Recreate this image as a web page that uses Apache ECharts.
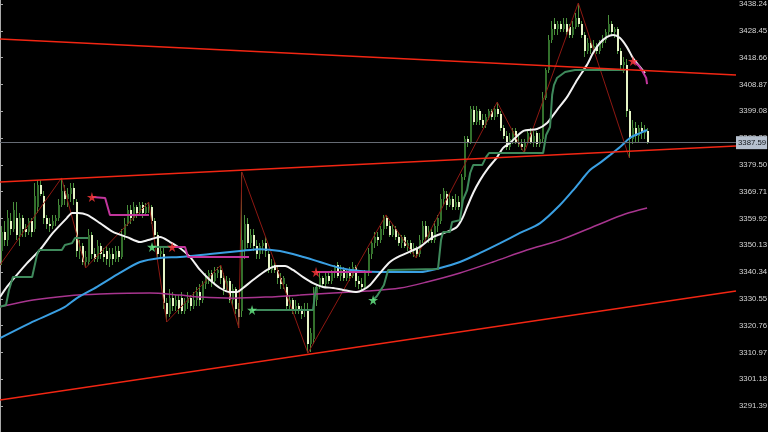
<!DOCTYPE html>
<html><head><meta charset="utf-8">
<script src="https://cdn.jsdelivr.net/npm/echarts@6/dist/echarts.min.js"></script>
<style>html,body{margin:0;padding:0;background:#000;}#c{width:768px;height:432px;}</style>
</head><body><div id="c"></div>
<script>
// y-axis tick labels (price)
const priceTicks = [3291.39,3301.18,3310.97,3320.76,3330.55,3340.34,3350.13,3359.92,3369.71,3379.50,3389.29,3399.08,3408.87,3418.66,3428.45,3438.24];
const bidPrice = 3387.59;
// candles: [open, close, low, high], one per bar
const candles = [
[3348,3355,3343,3357],[3355,3352,3350,3359],[3352,3360,3350,3363],[3359,3356,3354,3362],[3356,3363,3355,3366],
[3360,3354,3352,3366],[3354,3360,3350,3362],[3360,3356,3353,3361],[3356,3355,3353,3358],[3355,3359,3354,3360],
[3359,3355,3353,3360],[3356,3368,3355,3373],[3364,3372,3362,3374],[3372,3369,3368,3374],[3368,3360,3358,3370],
[3360,3358,3356,3361],[3358,3357,3355,3360],[3357,3359,3356,3361],[3359,3360,3357,3361],[3360,3365,3359,3367],
[3365,3370,3364,3374.7],[3370,3367,3365,3372],[3367,3369,3364,3371],[3369,3371,3366,3373],[3371,3367,3365,3373],
[3366,3348,3346,3367],[3348,3350,3345,3352],[3350,3344,3343,3351],[3344,3346,3341.8,3348],[3344,3354,3343,3356],
[3354,3347,3345,3355],[3347,3345,3344,3349],[3345,3350,3344,3352],[3350,3347,3345,3351],[3347,3346,3344,3349],
[3348,3345,3343,3350],[3345,3347,3342,3349],[3347,3345,3343,3349],[3345,3348,3344,3350],[3348,3346,3344,3350],
[3346,3354,3345,3356],[3354,3358,3352,3360],[3358,3363,3357,3365],[3363,3360,3358,3365],[3360,3364,3359,3366],
[3364,3362,3360,3365],[3362,3365,3361,3366],[3365,3362,3360,3366],[3362,3364,3361,3365.5],[3364,3364.5,3362,3365.9],
[3364,3359,3358,3365],[3359,3354,3352,3360],[3354,3347,3345,3355],[3347,3348,3345,3350],[3347,3329,3327,3349],
[3329,3325,3322.1,3331],[3325,3331,3324,3334],[3331,3328,3326,3333],[3328,3330,3326,3332],[3330,3327,3325,3332],
[3331,3326,3325,3333],[3326,3329,3325,3331],[3329,3331,3327,3333],[3331,3328,3326,3332],[3328,3330,3327,3333],
[3330,3333,3328,3335],[3333,3330,3328,3336],[3330,3336,3329,3337],[3336,3338,3334,3340],[3338,3340,3336,3341],
[3340,3337,3335,3341],[3337,3340,3336,3342],[3340,3341,3338,3342],[3341,3338,3336,3342.9],[3338,3334,3332,3340],
[3334,3337,3333,3339],[3337,3330,3329,3338],[3330,3334,3328,3336],[3334,3327,3325,3335],[3327,3324,3319.9,3329],
[3326,3352,3324,3376.9],[3348,3358,3345,3361],[3358,3351,3349,3360],[3351,3354,3349,3356],[3354,3350,3348,3356],
[3350,3347,3345,3352],[3347,3350,3345,3351],[3350,3351,3347,3352],[3351,3348,3346,3353],[3347,3341,3340,3348],
[3341,3343,3340,3345],[3343,3341,3340,3344],[3341,3338,3336,3342],[3338,3336,3334,3340],[3336,3338,3334,3339],
[3335,3328,3326,3336],[3328,3330,3326,3332],[3330,3326,3325,3331],[3326,3328,3325,3330],[3328,3326,3325,3329],
[3326,3325,3323,3328],[3326,3327,3324,3329],[3327,3314,3310.7,3329],[3314,3318,3311,3320],[3316,3332,3314,3335],
[3330,3335,3328,3336],[3335,3338,3334,3340],[3338,3336,3335,3339],[3336,3339,3335,3340],[3339,3337,3336,3340],
[3337,3340,3336,3341],[3340,3342,3338,3343],[3343,3339,3338,3344],[3339,3341,3337,3343],[3341,3338,3337,3342],
[3338,3340,3337,3341],[3340,3339,3337,3342],[3339,3342,3338,3344],[3342,3337,3335,3343],[3337,3336,3334,3339],
[3336,3335,3333.8,3338],[3335,3340,3334,3341],[3340,3347,3339,3349],[3347,3351,3345,3352],[3351,3353,3349,3355],
[3353,3352,3350,3355],[3352,3356,3351,3357],[3356,3360,3354,3361],[3360,3357,3356,3361.2],[3357,3354,3353,3359],
[3354,3356,3353,3358],[3356,3353,3352,3357],[3353,3351,3350,3355],[3351,3353,3349,3354],[3353,3350,3349,3354],
[3350,3351,3348,3352],[3351,3348,3347,3352],[3348,3349,3346,3351],[3349,3347,3345.5,3350],[3347,3352,3346,3354],
[3352,3357,3351,3359],[3357,3353,3352,3359],[3353,3355,3351,3357],[3355,3352,3351,3356],[3352,3357,3351,3359],
[3357,3360,3355,3361],[3359,3367,3358,3369],[3367,3370,3365,3371],[3369,3365,3363,3370],[3365,3367,3364,3369],
[3367,3364,3363,3368],[3364,3366,3363,3369],[3366,3364,3363,3368],[3365,3375,3364,3376],[3375,3389,3374,3390],
[3389,3388,3386,3390],[3388,3400,3387,3401],[3399.5,3395,3394,3401],[3395,3399,3394,3401],[3399,3396,3394,3400],
[3396,3394,3393,3398],[3394,3397,3393,3398],[3397,3399,3396,3400],[3399,3397,3396,3400],[3397,3400,3396,3401],
[3400,3398,3397,3402.4],[3398,3393,3392,3399],[3393,3390,3389,3394],[3390,3386,3385,3392],[3386,3389,3385,3391],
[3389,3392,3387,3393],[3392,3388,3387,3393],[3388,3387,3386,3390],[3387,3386,3385,3389],[3386,3388,3383.8,3389],
[3388,3391,3387,3392],[3391,3388,3387,3393],[3388,3390,3386,3392],[3391,3387,3386,3392],[3387,3389,3386,3391],
[3389,3404,3388,3406],[3404,3414,3403,3415],[3414,3425,3413,3427],[3425,3429,3424,3432],[3431,3429,3427,3433],
[3429,3431,3427,3432],[3431,3429,3428,3432],[3429,3431,3428,3433],[3431,3428,3427,3433],[3430,3427,3426,3431],
[3427,3430,3426,3432],[3430,3433,3429,3435],[3433,3431,3430,3438.6],[3431,3427,3426,3432],[3427,3421,3419,3428],
[3421,3424,3420,3426],[3424,3422,3420,3425],[3422,3423,3420,3425],[3423,3421,3420,3424],[3421,3424,3420,3425],
[3424,3425,3422,3427],[3425,3428,3424,3429],[3428,3431,3427,3434.2],[3431,3428,3427,3432],[3428,3429,3426,3430],
[3429,3421,3420,3430],[3421,3416,3414,3422],[3416,3417,3413,3419],[3416,3399,3397,3418],[3399,3389,3382,3400],
[3389,3393,3387,3396],[3393,3390,3388,3395],[3390,3393,3388,3394],[3393,3391,3389,3395],[3391,3392,3389,3394],
[3392,3387.59,3387,3393]
];
// indicator lines: [bar position, price]
const whiteMA = [[0,3331.2],[2.3,3334.9],[5.0,3338.5],[9.0,3343.6],[13.3,3348.4],[17.6,3354.6],[22.3,3360.1],[24.0,3361.9],[26.0,3361.9],[29.0,3361.2],[33.3,3358.2],[37.6,3355.0],[42.3,3353.1],[46.6,3351.3],[49.3,3352.0],[53.3,3353.1],[56.6,3351.3],[59.9,3349.1],[63.3,3345.8],[66.6,3341.1],[69.9,3337.4],[73.2,3334.5],[76.6,3333.0],[78.9,3333.0],[80.9,3334.5],[84.2,3337.4],[88.9,3341.1],[92.2,3342.5],[94.9,3342.5],[97.5,3341.1],[100.9,3338.5],[104.2,3336.3],[107.5,3334.9],[110.9,3334.5],[114.2,3333.8],[118.8,3333.0],[120.8,3333.8],[123.2,3335.6],[126.5,3340.0],[129.8,3344.0],[133.2,3346.2],[139.8,3349.5],[144.1,3353.1],[148.8,3355.0],[152.1,3356.8],[154.1,3360.4],[155.5,3364.1],[157.5,3369.2],[159.8,3373.9],[162.5,3378.3],[165.5,3382.3],[167.4,3385.6],[169.8,3387.5],[174.1,3391.8],[178.8,3392.6],[182.1,3394.8],[185.4,3399.5],[188.8,3404.3],[192.1,3410.5],[195.4,3416.0],[197.4,3420.3],[199.7,3424.0],[202.1,3426.2],[204.1,3426.9],[206.4,3425.8],[208.7,3422.5],[210.7,3418.5],[213.1,3415.2],[214.7,3413.0]];
const blueMA = [[0,3316.2],[10.0,3321.7],[21.0,3327.2],[25.6,3330.8],[32.3,3334.9],[39.9,3340.0],[46.6,3344.0],[53.3,3345.5],[59.9,3345.8],[69.9,3346.9],[79.9,3348.0],[86.6,3348.7],[93.2,3348.0],[99.9,3346.2],[106.5,3344.0],[113.2,3341.8],[119.8,3340.7],[126.5,3340.3],[133.2,3340.3],[139.8,3340.3],[146.5,3341.8],[153.1,3344.0],[159.8,3347.3],[166.5,3350.9],[173.1,3354.6],[179.8,3358.2],[186.4,3364.8],[191.4,3371.0],[196.4,3377.6],[199.7,3380.2],[203.1,3383.1],[206.4,3386.0],[209.7,3389.3],[213.1,3391.1],[215.4,3392.2]];
const magentaMA = [[0,3327.6],[11.0,3330.1],[22.3,3331.6],[33.3,3332.3],[49.9,3332.7],[59.9,3331.9],[66.6,3331.2],[77.6,3330.8],[88.9,3331.2],[99.9,3331.9],[110.9,3332.7],[122.2,3333.4],[133.2,3334.5],[142.1,3336.7],[153.1,3340.0],[164.1,3344.0],[175.4,3348.4],[186.4,3352.0],[199.7,3357.9],[208.1,3361.5],[215.4,3363.7]];
// trailing stop segments
const supportSteps = [
 [[0,3327.6],[2.0,3328.3],[3.0,3333.8],[4.3,3338.5],[10.7,3338.5],[12.3,3346.5],[13.0,3348.4],[20.6,3348.4],[21.6,3350.2],[24.0,3350.9],[25.0,3352.8],[29.3,3352.8]],
 [[50.6,3349.5],[57.3,3349.5]],
 [[83.9,3326.5],[104.2,3326.5],[105.2,3334.9]],
 [[124.2,3330.1],[125.5,3331.6],[127.8,3335.6],[129.2,3341.1],[145.8,3341.4],[146.8,3352.0],[147.5,3355.0],[149.8,3355.0],[150.5,3358.6],[153.1,3359.3],[154.1,3366.6],[155.5,3370.3],[156.5,3376.5],[157.5,3379.4],[160.5,3379.4],[161.8,3382.3],[162.8,3383.8],[180.8,3383.8],[181.8,3390.4],[183.1,3393.3],[183.8,3405.0],[184.4,3408.6],[185.4,3411.2],[188.1,3413.4],[191.4,3414.1],[208.1,3414.1]]
];
const resistSteps = [
 [[30.6,3367.7],[35.0,3367.4],[36.6,3361.2],[49.6,3361.2]],
 [[57.3,3349.5],[61.6,3349.5],[62.6,3345.8],[82.9,3345.8]],
 [[105.2,3340.3],[123.8,3340.3]],
 [[210.7,3417.4],[212.7,3415.6],[214.0,3413.4],[215.1,3411.2],[215.4,3409.0]]
];
const buyStars = [[50.6,3349.5],[83.9,3326.5],[124.2,3330.1]];
const sellStars = [[30.6,3367.7],[57.3,3349.5],[105.2,3340.3],[210.7,3417.4]];
const zigzag = [[0,3342.9],[20.5,3374.7],[28.5,3341.8],[49.5,3365.9],[55.5,3322.1],[73.5,3342.9],[79.5,3319.9],[80.5,3376.9],[102.5,3310.7],[128.5,3361.2],[138.5,3345.5],[165.5,3402.4],[174.5,3383.8],[192.5,3438.6],[209.5,3382.0]];
const trendLines = [
 [[0,3425.5],[245,3412.3]],
 [[0,3373.2],[245,3386.4]],
 [[0,3293.6],[245,3333.4]]
];

const STAR = 'path://M50,0 L61,35 L98,35 L68,57 L79,91 L50,70 L21,91 L32,57 L2,35 L39,35 Z';
const FONT = 'Liberation Sans, Arial, sans-serif';
const chart = echarts.init(document.getElementById('c'), null, {renderer:'canvas'});

function ln(data, color, width, z, smooth) {
  return {type:'line', data, symbol:'none', silent:true, z, smooth: smooth||false,
    lineStyle:{color, width}, clip:true, animation:false};
}
const series = [];
series.push({
  type:'custom', z:1, silent:true,
  data: candles.map((d,i)=>[i, d[0], d[1], d[2], d[3]]),
  encode:{x:0, y:[1,2,3,4]},
  renderItem:(params, api)=>{
    const i = api.value(0), o = api.value(1), c = api.value(2), l = api.value(3), h = api.value(4);
    const pO = api.coord([i+0.5, o]), pC = api.coord([i+0.5, c]);
    const pL = api.coord([i+0.5, l]), pH = api.coord([i+0.5, h]);
    const px = Math.floor(pO[0]);
    const top = Math.round(Math.min(pO[1], pC[1])), bot = Math.round(Math.max(pO[1], pC[1]));
    const bull = c >= o;
    return {type:'group', children:[
      {type:'line', shape:{x1:px+0.5, y1:Math.round(pH[1]), x2:px+0.5, y2:Math.round(pL[1])},
        style:{stroke:'#4a8f3c', lineWidth:1}},
      {type:'rect', shape:{x:px, y:top, width:2, height:Math.max(1, bot-top)},
        style:{fill: bull ? '#33702c' : '#e6f5c6'}}
    ]};
  }
});
series.push(ln(zigzag, '#8e1812', 1, 2));
series.push(ln(magentaMA, '#a8358f', 1.5, 3, 0.3));
series.push(ln(blueMA, '#3a9fe2', 2, 3, 0.3));
const white = ln(whiteMA, '#f2f2f2', 2, 4, 0.25);
white.markLine = {symbol:'none', silent:true, animation:false,
  data:[{yAxis: bidPrice}],
  lineStyle:{color:'#666b74', width:1, type:'solid'},
  label:{show:true, position:'end', distance:0, formatter:p=>p.value.toFixed(2),
    backgroundColor:'#b6c0ce', color:'#101418', fontSize:7.8, padding:[3,1,2,2],
    fontFamily:FONT}};
series.push(white);
supportSteps.forEach(s=>series.push(ln(s, '#3f8a5c', 2, 5)));
resistSteps.forEach(s=>series.push(ln(s, '#c2369c', 2, 5)));
trendLines.forEach(s=>series.push(ln(s, '#f22613', 1.5, 6)));
series.push({type:'scatter', data:buyStars, symbol:STAR, symbolSize:10, z:7, silent:true, itemStyle:{color:'#6af08a'}});
series.push({type:'scatter', data:sellStars, symbol:STAR, symbolSize:10, z:7, silent:true, itemStyle:{color:'#ff3a3a'}});

chart.setOption({
  backgroundColor:'#000',
  animation:false,
  grid:{left:0, right:32, top:0, bottom:0, containLabel:false, outerBoundsMode:'none'},
  xAxis:[{type:'value', min:0, max:245, show:false}],
  yAxis:[{type:'value', position:'right', min:3281.9, max:3439.7,
    axisLine:{show:true, lineStyle:{color:'#a9a9a9', width:1}},
    axisTick:{show:true, length:3, customValues:priceTicks, lineStyle:{color:'#a9a9a9'}},
    axisLabel:{show:true, customValues:priceTicks, formatter:v=>Number(v).toFixed(2), color:'#d6d6d6',
      fontSize:7.8, margin:3, fontFamily:FONT},
    splitLine:{show:false}}],
  series
});
</script></body></html>
